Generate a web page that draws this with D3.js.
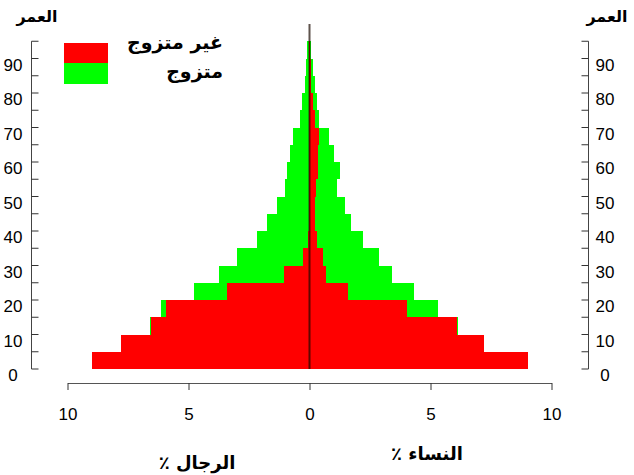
<!DOCTYPE html>
<html>
<head>
<meta charset="utf-8">
<script src="https://cdn.jsdelivr.net/npm/d3@7"></script>
<style>
  body { margin: 0; background: #fff; }
  svg { display: block; }
  .num { font-family: "Liberation Sans", Arial, sans-serif; font-size: 17px; fill: #000; }
  .ar { font-family: "DejaVu Sans", sans-serif; font-weight: bold; fill: #000; }
</style>
</head>
<body>
<div id="chart"></div>
<script>
// age bands, 5 years each (lower bound)
var ageBands = [0, 5, 10, 15, 20, 25, 30, 35, 40, 45, 50, 55, 60, 65, 70, 75, 80, 85, 90];

// men %, left side
var menUnmarried = [9.0, 7.77, 6.54, 5.95, 3.42, 1.07, 0.25, 0.08, 0.03, 0.03, 0.02, 0.02, 0.02, 0.02, 0.02, 0.01, 0.01, 0.01, 0.01];
var menMarried = [0, 0, 0.06, 0.18, 1.34, 2.65, 2.73, 2.1, 1.73, 1.31, 1.01, 0.92, 0.8, 0.67, 0.39, 0.29, 0.18, 0.13, 0.1];

// women %, right side
var womenUnmarried = [9.04, 7.22, 6.09, 4.02, 1.61, 0.7, 0.55, 0.33, 0.23, 0.23, 0.25, 0.36, 0.36, 0.4, 0.23, 0.15, 0.08, 0.06, 0.03];
var womenMarried = [0, 0, 0.05, 1.3, 2.72, 2.72, 2.34, 1.9, 1.49, 1.25, 0.87, 0.88, 0.64, 0.39, 0.18, 0.14, 0.13, 0.09, 0.05];

var xTicks = [-10, -5, 0, 5, 10];
var yTicks = d3.range(0, 100, 5);
var yLabels = d3.range(0, 100, 10);

var legendLabels = ["غير متزوج", "متزوج"];
var colors = ["#ff0000", "#00ff00"];

var width = 634, height = 475;

var x = d3.scaleLinear().domain([-10, 10]).range([67.5, 551.5]);
var y = d3.scaleLinear().domain([0, 100]).range([369, 24]);

var svg = d3.select("#chart")
  .append("svg")
  .attr("width", width)
  .attr("height", height);

// build stacked rows: unmarried from the centre, married beyond it
var rows = ageBands.map(function(a, i) {
  return {
    age: a,
    mu: menUnmarried[i], mm: menMarried[i],
    wu: womenUnmarried[i], wm: womenMarried[i]
  };
});

var bars = svg.append("g");

function band(sel, x0, x1, color) {
  sel.append("rect")
    .attr("x", function(d) { return Math.min(x(x0(d)), x(x1(d))); })
    .attr("width", function(d) { return Math.abs(x(x1(d)) - x(x0(d))); })
    .attr("y", function(d) { return y(d.age + 5); })
    .attr("height", function(d) { return y(d.age) - y(d.age + 5); })
    .attr("fill", color)
    .attr("shape-rendering", "crispEdges");
}

var g = bars.selectAll("g.row")
  .data(rows)
  .enter()
  .append("g")
  .attr("class", "row");

band(g, function(d) { return -d.mu; }, function(d) { return -(d.mu + d.mm); }, colors[1]);
band(g, function(d) { return 0; }, function(d) { return -d.mu; }, colors[0]);
band(g, function(d) { return d.wu; }, function(d) { return d.wu + d.wm; }, colors[1]);
band(g, function(d) { return 0; }, function(d) { return d.wu; }, colors[0]);

// centre line
svg.append("line")
  .attr("x1", x(0)).attr("x2", x(0))
  .attr("y1", y(100)).attr("y2", y(0))
  .attr("stroke", "#1a0a00")
  .attr("stroke-opacity", 0.7)
  .attr("stroke-width", 2);

// x axis
var xAxis = d3.axisBottom(x)
  .tickValues(xTicks)
  .tickFormat(function(d) { return Math.abs(d); })
  .tickSize(7)
  .tickSizeOuter(0)
  .tickPadding(18);

var gx = svg.append("g")
  .attr("transform", "translate(0,383)")
  .call(xAxis);
gx.select(".domain").attr("stroke", "#555");
gx.selectAll(".tick line").attr("stroke", "#333");
gx.selectAll(".tick text").attr("class", "num").attr("font-size", null).attr("font-family", null);

// y axes (ticks pointing inward)
function yAxisAt(xPos, dir) {
  var ax = svg.append("g");
  ax.append("line")
    .attr("x1", xPos).attr("x2", xPos)
    .attr("y1", y(95)).attr("y2", y(0))
    .attr("stroke", "#444");
  ax.selectAll("line.tk")
    .data(yTicks)
    .enter()
    .append("line")
    .attr("class", "tk")
    .attr("x1", xPos).attr("x2", xPos + dir * 7)
    .attr("y1", function(d) { return y(d); })
    .attr("y2", function(d) { return y(d); })
    .attr("stroke", "#333");
}
yAxisAt(31.5, 1);
yAxisAt(588.5, -1);

function yLabelsAt(cx) {
  svg.append("g").selectAll("text")
    .data(yLabels)
    .enter()
    .append("text")
    .attr("class", "num")
    .attr("x", cx)
    .attr("y", function(d) { return y(d) + 12; })
    .attr("text-anchor", "middle")
    .text(function(d) { return d; });
}
yLabelsAt(13);
yLabelsAt(605);

// axis titles
svg.append("text").attr("class", "ar").attr("font-size", 16)
  .attr("x", 37).attr("y", 22).attr("text-anchor", "middle").text("العمر");
svg.append("text").attr("class", "ar").attr("font-size", 16)
  .attr("x", 607).attr("y", 22).attr("text-anchor", "middle").text("العمر");
svg.append("text").attr("class", "ar").attr("font-size", 18)
  .attr("x", 197).attr("y", 469).attr("text-anchor", "middle")
  .attr("direction", "rtl").text("الرجال ٪");
svg.append("text").attr("class", "ar").attr("font-size", 18)
  .attr("x", 427).attr("y", 460).attr("text-anchor", "middle")
  .attr("direction", "rtl").text("النساء ٪");

// legend
var legend = svg.append("g");
legendLabels.forEach(function(lab, i) {
  legend.append("rect")
    .attr("x", 64).attr("y", 42.5 + i * 20.5)
    .attr("width", 43.5).attr("height", 20.5)
    .attr("fill", colors[i])
    .attr("shape-rendering", "crispEdges");
  legend.append("text")
    .attr("class", "ar")
    .attr("font-size", 19)
    .attr("x", 223).attr("y", 49 + i * 29)
    .attr("text-anchor", "end")
    .text(lab);
});
</script>
</body>
</html>
